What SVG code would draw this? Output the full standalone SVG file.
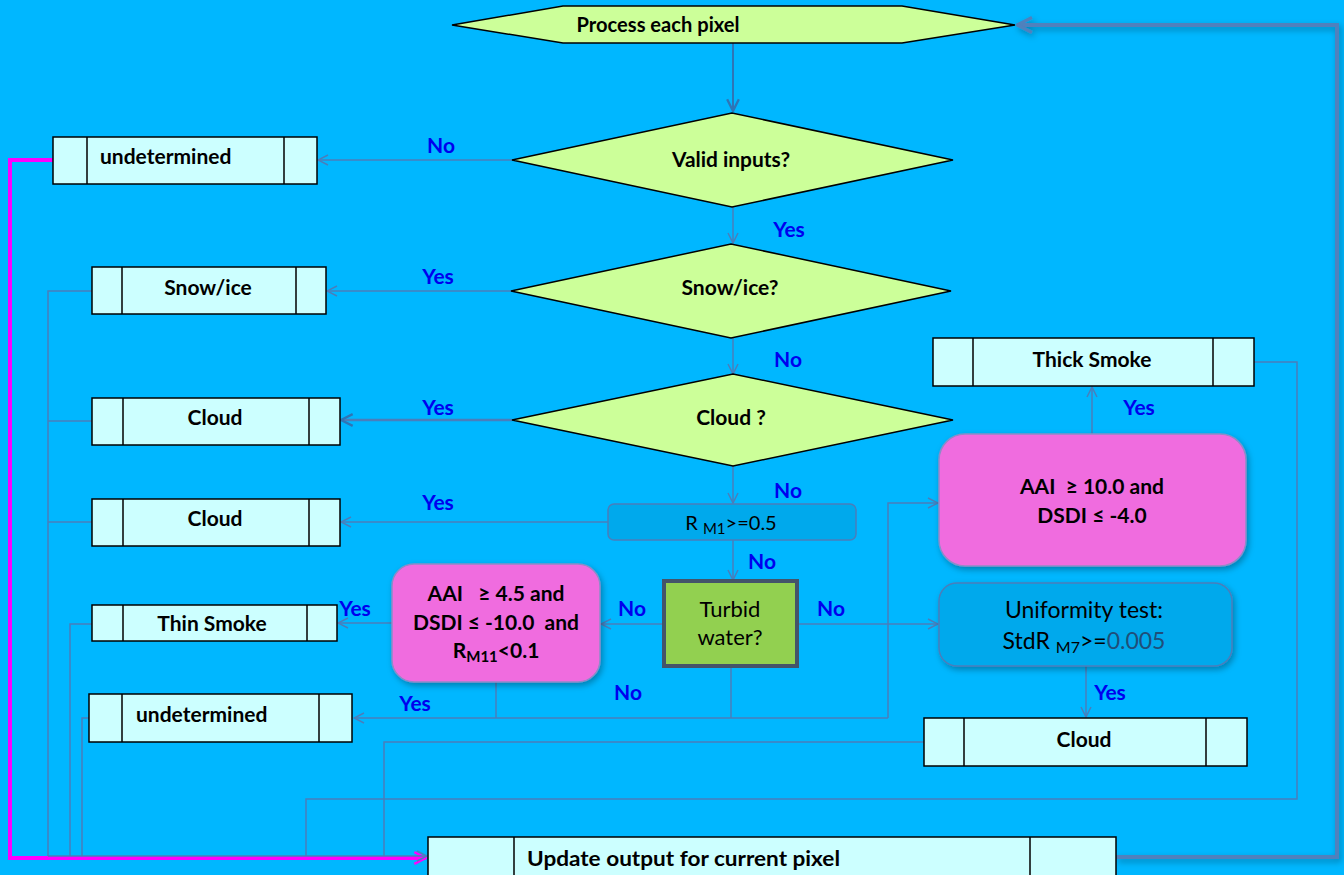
<svg xmlns="http://www.w3.org/2000/svg" width="1344" height="875" viewBox="0 0 1344 875">
<defs>
<style>
.box{fill:#CCFFFF;stroke:#000;stroke-width:1.5}
.dv{stroke:#000;stroke-width:1.5}
.dia{fill:#CCFF99;stroke:#000;stroke-width:1.5}
.t{font-family:Lato,"Liberation Sans",sans-serif;font-weight:bold;font-size:21px;fill:#000}
.r{font-family:Lato,"Liberation Sans",sans-serif;font-size:21px;fill:#000}
.lbl{font-family:Lato,"Liberation Sans",sans-serif;font-weight:bold;font-size:21px;fill:#0000EE;text-anchor:middle}
.m{text-anchor:middle}
.c{fill:none;stroke:#4A7EBB;stroke-width:1.5}
.pink{fill:#F06CDF;stroke:#8C8CC8;stroke-width:1.5}
.cyan{fill:#00A9EC;stroke:#4A7EBB;stroke-width:1.5}
</style>
<marker id="a" viewBox="0 0 12 12" refX="11" refY="6" markerWidth="12" markerHeight="12" markerUnits="userSpaceOnUse" orient="auto">
<path d="M1,1 L11,6 L1,11" fill="none" stroke="#4A7EBB" stroke-width="1.5"/>
</marker>
<marker id="ad" viewBox="0 0 12 12" refX="11" refY="6" markerWidth="14" markerHeight="14" markerUnits="userSpaceOnUse" orient="auto">
<path d="M1,1 L11,6 L1,11" fill="none" stroke="#2E75B6" stroke-width="2"/>
</marker>
<marker id="at" viewBox="0 0 12 12" refX="11" refY="6" markerWidth="18" markerHeight="18" markerUnits="userSpaceOnUse" orient="auto">
<path d="M1,1 L11,6 L1,11" fill="none" stroke="#4F81BD" stroke-width="2.2"/>
</marker>
<marker id="am" viewBox="0 0 12 12" refX="11" refY="6" markerWidth="14" markerHeight="14" markerUnits="userSpaceOnUse" orient="auto">
<path d="M1,1 L11,6 L1,11" fill="none" stroke="#FF00FF" stroke-width="2"/>
</marker>
<filter id="sh" x="-10%" y="-10%" width="130%" height="130%">
<feDropShadow dx="2" dy="3" stdDeviation="3" flood-color="#000" flood-opacity="0.3"/>
</filter>
</defs>
<rect width="1344" height="875" fill="#00B7FF"/>

<g id="connectors">
<path class="c" d="M92,291 H48 V857"/>
<path class="c" d="M92,421 H48"/>
<path class="c" d="M92,522 H48"/>
<path class="c" d="M92,624 H70 V857"/>
<path class="c" d="M89,718 H82 V857"/>
<path class="c" d="M924,742 H384 V857"/>
<path class="c" d="M1254,362 H1297 V799 H306 V857"/>
<path d="M53,160 H10 V858 H426" fill="none" stroke="#FF00FF" stroke-width="4" marker-end="url(#am)"/>
<path class="c" d="M48,856 H427" marker-end="url(#a)"/>
<path d="M1116,857 H1337 V25 H1017" fill="none" stroke="#4F81BD" stroke-width="4" marker-end="url(#at)" filter="url(#sh)"/>
<path d="M733,43 V111" fill="none" stroke="#2E75B6" stroke-width="2" marker-end="url(#ad)"/>
<path class="c" d="M512,160 H318" marker-end="url(#a)"/>
<path class="c" d="M733,207 V243" marker-end="url(#a)"/>
<path class="c" d="M511,291 H327" marker-end="url(#a)"/>
<path class="c" d="M733,338 V374" marker-end="url(#a)"/>
<path d="M512,420 H341" fill="none" stroke="#4A7EBB" stroke-width="2.5" marker-end="url(#ad)"/>
<path class="c" d="M733,466 V503" marker-end="url(#a)"/>
<path class="c" d="M608,522 H341" marker-end="url(#a)"/>
<path class="c" d="M733,540 V580" marker-end="url(#a)"/>
<path class="c" d="M664,624 H601" marker-end="url(#a)"/>
<path class="c" d="M797,624 H938" marker-end="url(#a)"/>
<path class="c" d="M731,666 V718"/>
<path class="c" d="M496,682 V718"/>
<path class="c" d="M888,718 H354" marker-end="url(#a)"/>
<path class="c" d="M888,718 V503 H938" marker-end="url(#a)"/>
<path class="c" d="M392,623 H338" marker-end="url(#a)"/>
<path class="c" d="M1092,434 V387" marker-end="url(#a)"/>
<path class="c" d="M1086,666 V717" marker-end="url(#a)"/>
</g>

<g id="labels">
<text class="lbl" x="441" y="153">No</text>
<text class="lbl" x="789" y="237">Yes</text>
<text class="lbl" x="438" y="284">Yes</text>
<text class="lbl" x="788" y="367">No</text>
<text class="lbl" x="438" y="415">Yes</text>
<text class="lbl" x="788" y="498">No</text>
<text class="lbl" x="438" y="510">Yes</text>
<text class="lbl" x="762" y="569">No</text>
<text class="lbl" x="632" y="616">No</text>
<text class="lbl" x="831" y="616">No</text>
<text class="lbl" x="355" y="616">Yes</text>
<text class="lbl" x="628" y="700">No</text>
<text class="lbl" x="415" y="711">Yes</text>
<text class="lbl" x="1139" y="415">Yes</text>
<text class="lbl" x="1110" y="700">Yes</text>
</g>

<g id="process">
<polygon class="dia" points="452,25 563,6 902,6 1015,25 902,43 563,43"/>
<text class="t m" x="658" y="32" style="font-size:20px" textLength="163" lengthAdjust="spacingAndGlyphs">Process each pixel</text>
</g>

<g id="valid">
<polygon class="dia" points="512,160 732,113 953,160 732,207"/>
<text class="t m" x="731" y="167" textLength="118" lengthAdjust="spacingAndGlyphs">Valid inputs?</text>
</g>

<g id="snowq">
<polygon class="dia" points="511,291 731,244 951,291 731,338"/>
<text class="t m" x="730" y="295" textLength="97" lengthAdjust="spacingAndGlyphs">Snow/ice?</text>
</g>

<g id="cloudq">
<polygon class="dia" points="512,420 733,374 953,420 733,466"/>
<text class="t m" x="731" y="425">Cloud ?</text>
</g>

<g id="undet1">
<rect class="box" x="53" y="137" width="264" height="47"/>
<path class="dv" d="M87,137 V184 M284,137 V184"/>
<text class="t" x="100" y="164">undetermined</text>
</g>

<g id="snowbox">
<rect class="box" x="92" y="267" width="234" height="47"/>
<path class="dv" d="M122,267 V314 M296,267 V314"/>
<text class="t m" x="208" y="295">Snow/ice</text>
</g>

<g id="cloud1">
<rect class="box" x="92" y="398" width="248" height="47"/>
<path class="dv" d="M123,398 V445 M309,398 V445"/>
<text class="t m" x="215" y="425">Cloud</text>
</g>

<g id="cloud2">
<rect class="box" x="92" y="499" width="248" height="47"/>
<path class="dv" d="M123,499 V546 M309,499 V546"/>
<text class="t m" x="215" y="526">Cloud</text>
</g>

<g id="thinsmoke">
<rect class="box" x="92" y="605" width="245" height="36"/>
<path class="dv" d="M123,605 V641 M307,605 V641"/>
<text class="t m" x="212" y="631">Thin Smoke</text>
</g>

<g id="undet2">
<rect class="box" x="89" y="694" width="263" height="48"/>
<path class="dv" d="M122,694 V742 M319,694 V742"/>
<text class="t" x="136" y="722">undetermined</text>
</g>

<g id="rm1">
<rect class="cyan" x="608" y="504" width="248" height="36" rx="6"/>
<text class="r m" x="731" y="530" style="font-size:20px">R <tspan style="font-size:15px" dy="4">M1</tspan><tspan dy="-4">&gt;=0.5</tspan></text>
</g>

<g id="turbid">
<rect x="664" y="581" width="133" height="85" fill="#92D050" stroke="#44546A" stroke-width="4"/>
<text class="r m" x="730" y="617" style="font-size:22px">Turbid</text>
<text class="r m" x="730" y="645" style="font-size:22px">water?</text>
</g>

<g id="pink1">
<rect class="pink" x="392" y="564" width="208" height="118" rx="22" filter="url(#sh)"/>
<text class="t m" x="496" y="601" xml:space="preserve">AAI   ≥ 4.5 and</text>
<text class="t m" x="496" y="630" xml:space="preserve">DSDI ≤ -10.0  and</text>
<text class="t m" x="496" y="658">R<tspan style="font-size:15px" dy="4">M11</tspan><tspan dy="-4">&lt;0.1</tspan></text>
</g>

<g id="pink2">
<rect class="pink" x="939" y="434" width="307" height="132" rx="26" filter="url(#sh)"/>
<text class="t m" x="1092" y="494" xml:space="preserve">AAI  ≥ 10.0 and</text>
<text class="t m" x="1092" y="523">DSDI ≤ -4.0</text>
</g>

<g id="uniform">
<rect class="cyan" x="939" y="583" width="293" height="83" rx="18" filter="url(#sh)"/>
<text class="r m" x="1084" y="618" style="font-size:23px">Uniformity test:</text>
<text class="r m" x="1084" y="649" style="font-size:23px">StdR <tspan style="font-size:16px" dy="4">M7</tspan><tspan dy="-4">&gt;=</tspan><tspan fill="#1F4E79">0.005</tspan></text>
</g>

<g id="thicksmoke">
<rect class="box" x="933" y="338" width="321" height="48"/>
<path class="dv" d="M973,338 V386 M1213,338 V386"/>
<text class="t m" x="1092" y="367">Thick Smoke</text>
</g>

<g id="cloud3">
<rect class="box" x="924" y="718" width="323" height="48"/>
<path class="dv" d="M964,718 V766 M1206,718 V766"/>
<text class="t m" x="1084" y="747">Cloud</text>
</g>

<g id="update">
<rect class="box" x="428" y="837" width="688" height="50"/>
<path class="dv" d="M514,837 V887 M1030,837 V887"/>
<text class="t" x="527" y="866" textLength="313" lengthAdjust="spacingAndGlyphs">Update output for current pixel</text>
</g>
</svg>
